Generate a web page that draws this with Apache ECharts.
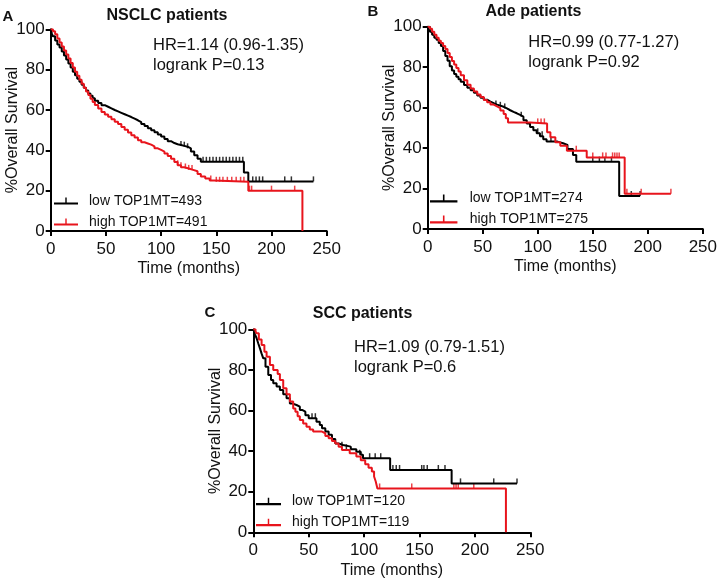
<!DOCTYPE html>
<html>
<head>
<meta charset="utf-8">
<script src="https://cdn.jsdelivr.net/npm/echarts@6/dist/echarts.min.js"></script>
<style>
  html, body { margin: 0; padding: 0; background: #fff; }
  #chart { width: 720px; height: 584px; }
</style>
</head>
<body>
<div id="chart"></div>
<script>
// axis ticks shared by the three panels
const timeTicks = [0, 50, 100, 150, 200, 250];
const survivalTicks = [0, 20, 40, 60, 80, 100];

// panel A: NSCLC patients, [months, % survival] after each step
const nsclcLow = [[0,100],[1,98],[2,96.5],[4,94.5],[6,92.5],[8,91],[10,89],[12,87],[14,85],[16,83],[18,81],[20,79],[22,77.2],[24,75.5],[26,74],[28,72.5],[30,71],[32,69.6],[34,68.2],[36,67],[38,65.8],[40,64.6],[43,63.4],[46,62.4],[49,61.6],[52,60.8],[55,60],[58,59.3],[61,58.6],[64,57.9],[67,57.2],[70,56.5],[73,55.7],[76,54.9],[79,54],[82,53],[85,52],[88,51],[91,50],[94,49],[97,47.9],[100,46.8],[103,45.6],[106,44.5],[109,43.6],[112,43],[115,42.6],[118,42.2],[121,41.8],[124,41],[127,39.4],[130,37.6],[133,35.8],[136,34.3],[175,29],[179,24.6],[238,24.6]];
const nsclcHigh = [[0,100],[2,99],[4,97.5],[6,95.5],[8,93.5],[10,91.5],[12,89.5],[14,87.5],[16,85.5],[18,83.3],[20,81],[22,79],[24,77],[26,75],[28,73],[30,71],[32,69.2],[34,67.4],[36,65.6],[38,64],[40,62.5],[43,60.7],[46,59],[49,57.8],[52,56.6],[55,55.4],[58,54.2],[61,53],[64,51.6],[67,50.2],[70,48.8],[73,47.5],[76,46.3],[79,45],[82,44],[85,43.4],[88,42.8],[91,42],[94,41],[97,40.2],[100,39.4],[103,38.4],[106,37.2],[109,35.8],[112,34.2],[115,32.6],[118,31.6],[121,31],[125,30.3],[129,29.6],[133,28.2],[136,27],[140,26],[144,25],[148,24.4],[179,20],[228,0]];
const nsclcLowCensor = [[118,42.2],[121,41.8],[124,41],[138,34.3],[141,34.3],[144,34.3],[147,34.3],[150,34.3],[153,34.3],[156,34.3],[159,34.3],[162,34.3],[165,34.3],[168,34.3],[171,34.3],[174,34.3],[183,24.6],[186,24.6],[189,24.6],[192,24.6],[212,24.6],[218,24.6],[238,24.6]];
const nsclcHighCensor = [[115,32.6],[118,31.6],[122,31],[125,30.3],[128,30.3],[145,25],[150,24.4],[153,24.4],[156,24.4],[160,24.4],[164,24.4],[168,24.4],[172,24.4],[175,24.4],[180,20],[182,20],[200,20],[221,20]];

// panel B: Ade patients
const adeLow = [[0,100],[2,97.5],[4,96],[6,94.5],[8,93.5],[10,92],[12,90.5],[14,88],[16,85.5],[18,83.2],[20,80.5],[22,78.3],[24,76.6],[26,75.2],[28,74],[30,72.8],[33,71.2],[36,69.8],[39,68.6],[42,67.3],[45,66],[48,64.9],[51,63.9],[54,63],[57,62.2],[60,61.5],[63,61],[66,60.4],[69,59.6],[72,58.7],[75,57.9],[78,57.2],[81,56.4],[84,55.5],[87,53.8],[90,52.1],[93,50.4],[96,48.8],[99,47.3],[102,45.8],[105,44.4],[108,43.2],[118,42.4],[123,41.6],[127,39.5],[132,36.6],[135,33.3],[174,16.3],[193,16.3]];
const adeHigh = [[0,100],[2,99],[4,97.5],[6,96],[8,94.5],[10,93],[12,92],[14,90.5],[16,89],[18,87],[20,85],[22,83],[24,81.3],[26,79.6],[28,77.8],[30,76],[33,73.5],[36,71.3],[39,69.4],[42,68],[45,66.5],[48,65.2],[51,63.8],[54,62.6],[57,61.5],[60,60.6],[63,59.7],[66,58.6],[69,56.8],[71,54.8],[73,52.6],[93,52.2],[108.5,47.8],[111.5,45.3],[116,42.9],[120.5,41.2],[126.5,38.7],[144.5,35.4],[179,17.4],[221,17.4]];
const adeLowCensor = [[62,61],[66,60.4],[70,59.6],[85,55.5],[100,47.3],[104,45.8],[112,43.2],[150,33.3],[156,33.3],[161,33.3],[167,33.3],[185,16.3],[193,16.3]];
const adeHighCensor = [[100,52.2],[103,52.2],[106,52.2],[135,38.7],[150,35.4],[159,35.4],[162,35.4],[168,35.4],[170,35.4],[172,35.4],[174,35.4],[181,17.4],[194,17.4],[221,17.4]];

// panel C: SCC patients
const sccLow = [[0,100],[1.5,97.5],[3,95.6],[4.5,93],[6,90.6],[7.5,88],[9,85.7],[11,81.5],[13.5,77.5],[16,75],[18,73.4],[21,71.8],[24,70.1],[27,68],[30,66],[33,63.5],[35,62.7],[39,61.9],[42,60.3],[44,59.4],[47,57.6],[50,56.2],[57,54.5],[60,52.8],[62,51.2],[65,49.6],[68,48],[71,46],[74,43.8],[77,43],[81,42.2],[88,40.9],[93,39.7],[97,38.2],[99,36.5],[123.5,30.7],[179,24.1],[238,24.1]];
const sccHigh = [[0,100],[2,99],[3,98],[5,95],[7.5,92.3],[10,89],[12,86.5],[15,82.4],[18,80],[22,78],[24,75],[27,71],[30,68],[33,64.4],[36,61],[38,59.4],[40,57.2],[42,55.3],[45,53.6],[48,52],[51,50.6],[54,49.6],[62,48.8],[65,47.4],[68,46.3],[71,45],[74,43.8],[77,42.2],[80,40.6],[87,38.9],[93,37.3],[97,35.5],[101,33.5],[104,31.8],[107,29.9],[109,27.5],[110.5,25],[112,21.6],[228,0]];
const sccLowCensor = [[53,56.2],[56,56.2],[80,42.2],[84,40.9],[96,38.2],[105,36.5],[110,36.5],[115,36.5],[126,30.7],[129,30.7],[132,30.7],[152,30.7],[154,30.7],[157,30.7],[167,30.7],[173,30.7],[187,24.1],[217,24.1],[238,24.1]];
const sccHighCensor = [[114,21.6],[143,21.6],[181,21.6],[183,21.6],[185,21.6],[199,21.6]];

const panels = [
  { letter: 'A', title: 'NSCLC patients', hr: 'HR=1.14 (0.96-1.35)', p: 'logrank P=0.13',
    low: nsclcLow, high: nsclcHigh, lowCensor: nsclcLowCensor, highCensor: nsclcHighCensor,
    lowName: 'low TOP1MT=493', highName: 'high TOP1MT=491',
    grid: { left: 50.7, top: 29.3, width: 276, height: 201.7 },
    letterPos: [8, 17], titlePos: [167, 15.5], hrPos: [153, 45.5], legendPos: [54, 194], legendIcon: 24 },
  { letter: 'B', title: 'Ade patients', hr: 'HR=0.99 (0.77-1.27)', p: 'logrank P=0.92',
    low: adeLow, high: adeHigh, lowCensor: adeLowCensor, highCensor: adeHighCensor,
    lowName: 'low TOP1MT=274', highName: 'high TOP1MT=275',
    grid: { left: 427.7, top: 26.7, width: 275.6, height: 202.3 },
    letterPos: [373, 12], titlePos: [533.5, 11.5], hrPos: [528.3, 42.7], legendPos: [430, 191.5], legendIcon: 30 },
  { letter: 'C', title: 'SCC patients', hr: 'HR=1.09 (0.79-1.51)', p: 'logrank P=0.6',
    low: sccLow, high: sccHigh, lowCensor: sccLowCensor, highCensor: sccHighCensor,
    lowName: 'low TOP1MT=120', highName: 'high TOP1MT=119',
    grid: { left: 253.3, top: 329.3, width: 277, height: 203 },
    letterPos: [210, 313], titlePos: [362.5, 313.5], hrPos: [354, 347], legendPos: [256, 494.5], legendIcon: 25 }
];

const FONT = '"Liberation Sans", Arial, Helvetica, sans-serif';
const BLACK = '#000000';
const RED = '#e8141c';

const option = {
  animation: false,
  textStyle: { fontFamily: FONT },
  grid: [],
  xAxis: [],
  yAxis: [],
  legend: [],
  series: [],
  graphic: []
};

panels.forEach((pan, i) => {
  option.grid.push(Object.assign({ containLabel: false }, pan.grid));

  option.xAxis.push({
    gridIndex: i,
    type: 'value',
    min: timeTicks[0],
    max: timeTicks[timeTicks.length - 1],
    interval: timeTicks[1] - timeTicks[0],
    name: 'Time (months)',
    nameLocation: 'middle',
    nameGap: 30,
    nameTextStyle: { fontSize: 16, color: '#111' },
    axisLine: { lineStyle: { color: BLACK, width: 2 } },
    axisTick: { length: 5, lineStyle: { color: BLACK, width: 2 } },
    axisLabel: { fontSize: 17, color: '#111', margin: 10 },
    splitLine: { show: false }
  });

  option.yAxis.push({
    gridIndex: i,
    type: 'value',
    min: survivalTicks[0],
    max: survivalTicks[survivalTicks.length - 1],
    interval: survivalTicks[1] - survivalTicks[0],
    name: '%Overall Survival',
    nameLocation: 'middle',
    nameGap: 30,
    nameMoveOverlap: false,
    nameTextStyle: { fontSize: 16, color: '#111' },
    axisLine: { show: true, lineStyle: { color: BLACK, width: 2 } },
    axisTick: { show: true, length: 5, lineStyle: { color: BLACK, width: 2 } },
    axisLabel: { fontSize: 17, color: '#111', margin: 6 },
    splitLine: { show: false }
  });

  option.series.push({
    name: pan.lowName, type: 'line', step: 'end',
    xAxisIndex: i, yAxisIndex: i,
    data: pan.low, showSymbol: false, color: BLACK,
    lineStyle: { color: BLACK, width: 2 }, silent: true
  }, {
    name: pan.highName, type: 'line', step: 'end',
    xAxisIndex: i, yAxisIndex: i,
    data: pan.high, showSymbol: false, color: RED,
    lineStyle: { color: RED, width: 2 }, silent: true
  }, {
    name: pan.lowName + ' censored', type: 'scatter',
    xAxisIndex: i, yAxisIndex: i, data: pan.lowCensor,
    symbol: 'rect', symbolSize: [1.5, 5], symbolOffset: [0, -2.5],
    itemStyle: { color: BLACK }, silent: true
  }, {
    name: pan.highName + ' censored', type: 'scatter',
    xAxisIndex: i, yAxisIndex: i, data: pan.highCensor,
    symbol: 'rect', symbolSize: [1.5, 5], symbolOffset: [0, -2.5],
    itemStyle: { color: RED }, silent: true
  });

  option.legend.push({
    data: [pan.lowName, pan.highName],
    orient: 'vertical',
    left: pan.legendPos[0],
    top: pan.legendPos[1],
    itemGap: 7,
    itemWidth: pan.legendIcon,
    itemHeight: 8,
    padding: 0,
    icon: 'path://M0,5h24v2h-24z M11.3,0h1.4v6h-1.4z',
    textStyle: { fontSize: 14, color: '#111', padding: [0, 0, 0, 6] },
    selectedMode: false
  });

  option.graphic.push({
    type: 'text', x: pan.letterPos[0], y: pan.letterPos[1],
    style: { text: pan.letter, font: 'bold 15px ' + FONT, fill: '#111', align: 'center', verticalAlign: 'middle' }
  }, {
    type: 'text', x: pan.titlePos[0], y: pan.titlePos[1],
    style: { text: pan.title, font: 'bold 16px ' + FONT, fill: '#111', align: 'center', verticalAlign: 'middle' }
  }, {
    type: 'text', x: pan.hrPos[0], y: pan.hrPos[1],
    style: { text: pan.hr, font: '16.5px ' + FONT, fill: '#111', align: 'left', verticalAlign: 'middle' }
  }, {
    type: 'text', x: pan.hrPos[0], y: pan.hrPos[1] + 20,
    style: { text: pan.p, font: '16.5px ' + FONT, fill: '#111', align: 'left', verticalAlign: 'middle' }
  });
});

const chart = echarts.init(document.getElementById('chart'));
chart.setOption(option);
</script>
</body>
</html>
